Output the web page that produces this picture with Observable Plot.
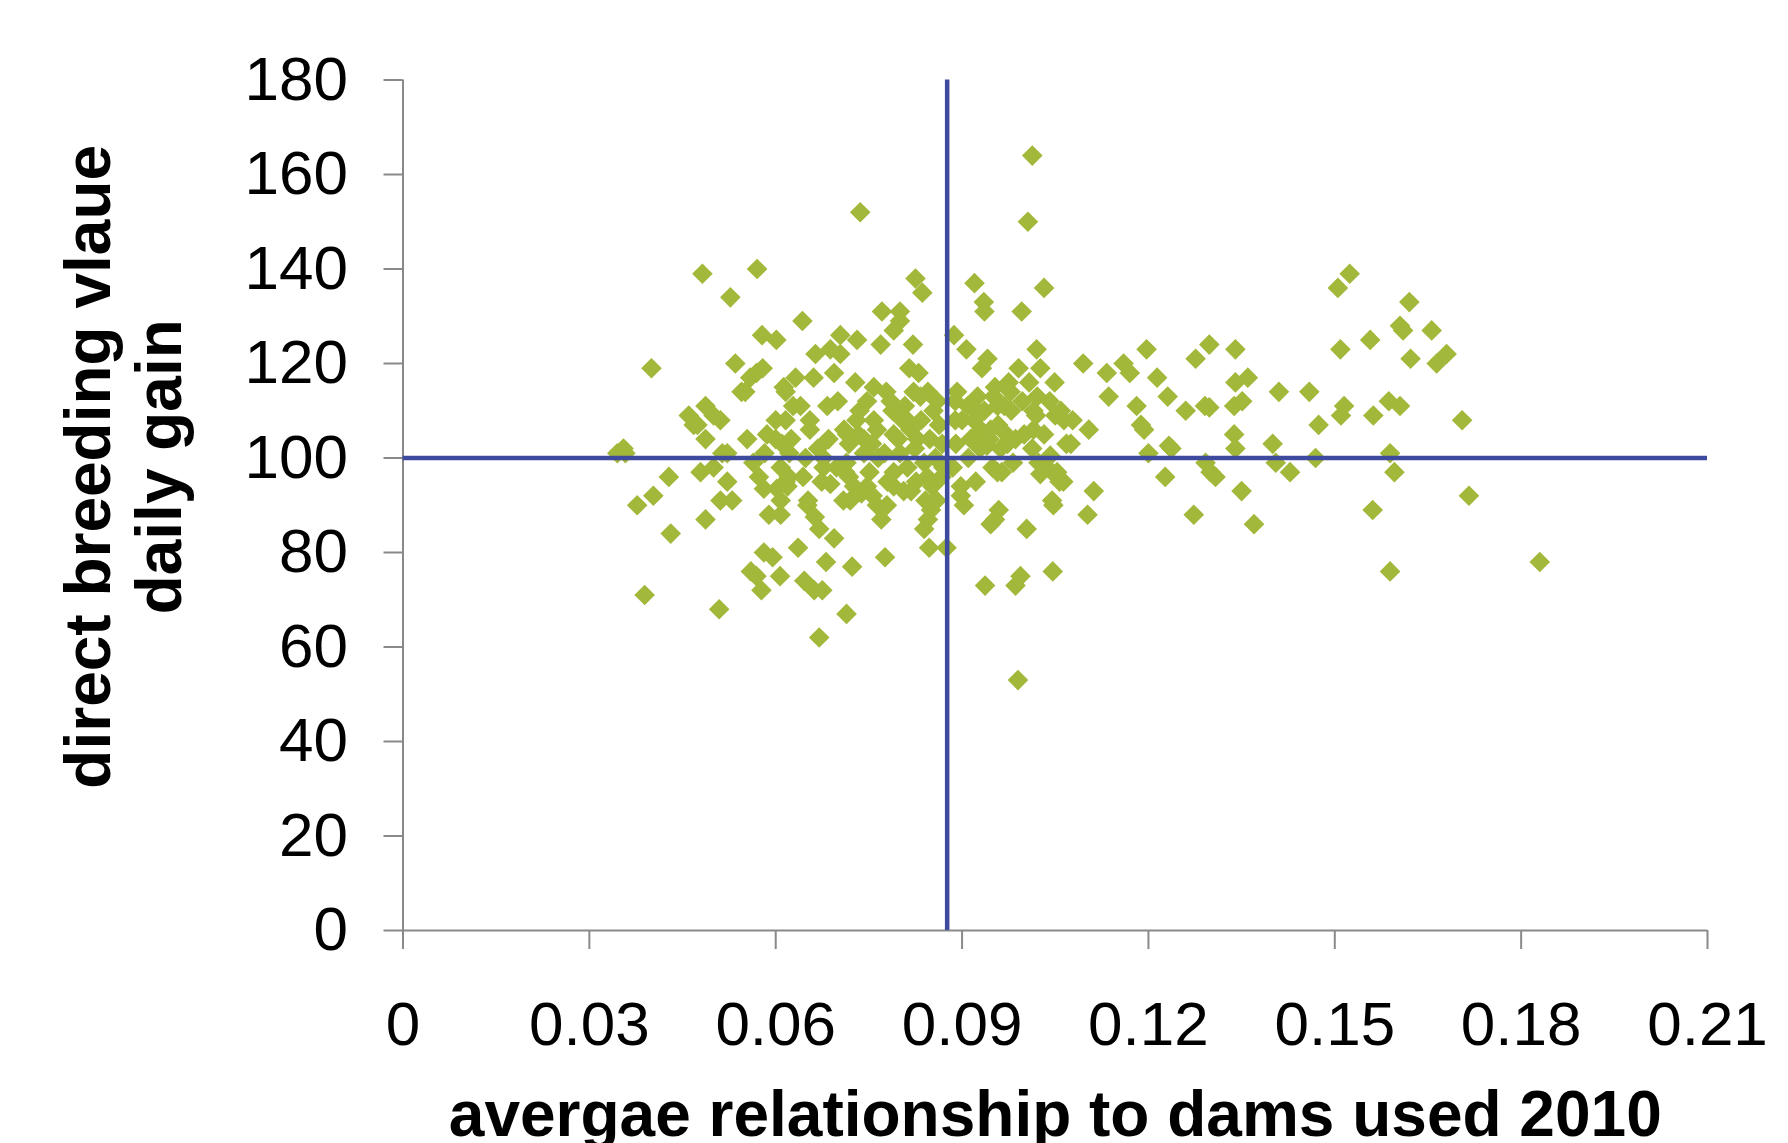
<!DOCTYPE html>
<html>
<head>
<meta charset="utf-8">
<script src="https://cdn.jsdelivr.net/npm/d3@7"></script>
<script src="https://cdn.jsdelivr.net/npm/@observablehq/plot@0.6"></script>
<style>
  html, body { margin: 0; padding: 0; background: #ffffff; }
  #chart svg { display: block; }
</style>
</head>
<body>
<div id="chart"></div>
<script>
// ---- data ----
const xTitle = "avergae relationship to dams used 2010";
const yTitle = "direct breeding vlaue\ndaily gain";

const xTicks = [0, 0.03, 0.06, 0.09, 0.12, 0.15, 0.18, 0.21];
const xTickLabels = ["0", "0.03", "0.06", "0.09", "0.12", "0.15", "0.18", "0.21"];
const yTicks = [0, 20, 40, 60, 80, 100, 120, 140, 160, 180];
const yTickLabels = ["0", "20", "40", "60", "80", "100", "120", "140", "160", "180"];

const meanRelationship = 0.0876;   // vertical reference line
const referenceGain = 100;         // horizontal reference line

// [average relationship, direct breeding value daily gain]
const points = [
  [0.0345,101],[0.0358,101],[0.0355,102],[0.0377,90],[0.0389,71],[0.0400,119],[0.0403,92],[0.0428,96],
  [0.0431,84],[0.0460,109],[0.0468,107],[0.0474,107],[0.0482,139],[0.0487,111],[0.0479,97],[0.0487,104],
  [0.0487,87],[0.0500,98],[0.0500,109],[0.0509,68],[0.0511,108],[0.0514,101],[0.0511,91],[0.0522,95],
  [0.0522,101],[0.0527,134],[0.0530,91],[0.0535,120],[0.0545,114],[0.0551,114],[0.0559,117],[0.0554,104],
  [0.0564,99],[0.0560,76],[0.0570,140],[0.0569,118],[0.0579,119],[0.0573,96],[0.0581,80],[0.0595,79],
  [0.0569,75],[0.0577,72],[0.0578,126],[0.0581,93.5],[0.0582,101],[0.0586,105],[0.0589,88],[0.0601,125],
  [0.0600,108],[0.0600,104],[0.0602,93.5],[0.0607,75],
  [0.0608,88],[0.0608,98],[0.0608,91],[0.0610,103],[0.0613,115],[0.0616,95],[0.0616,114],[0.0616,108],
  [0.0619,94],[0.0621,96],[0.0622,101],[0.0628,111],[0.0632,117],[0.0636,81],[0.0640,111],[0.0643,129],
  [0.0644,96],[0.0646,74],[0.0648,100],[0.0651,90],[0.0652,91],[0.0655,106],[0.0655,108],[0.0661,117],
  [0.0662,72],[0.0663,87.5],[0.0664,122],[0.0670,62],[0.0670,85],[0.0675,72],[0.0674,95],[0.0677,100],
  [0.0677,98],[0.0681,78],[0.0683,111],[0.0685,104],[0.0688,123],[0.0688,94.5],[0.0694,118],[0.0694,83],
  [0.0698,98],[0.0704,126],[0.0704,122],[0.0709,91],[0.0710,106],[0.0712,97],[0.0714,67],[0.0714,99],
  [0.0715,105],[0.0718,96],[0.0718,103],[0.0720,91],[0.0723,77],[0.0726,94],[0.0728,116],[0.0731,125],
  [0.0730,108],[0.0733,105],[0.0736,152],[0.0738,92.5],[0.0742,101],[0.0742,104],[0.0747,112],[0.0747,94],
  [0.0751,97],[0.0755,103],[0.0756,92],[0.0758,108],[0.0758,115],[0.0763,106],[0.0763,90],[0.0770,87],
  [0.0769,124],[0.0771,131],[0.0776,79],[0.0775,101],[0.0778,114],[0.0779,90],[0.0780,95],[0.0790,127],
  [0.0788,110],[0.0790,105],[0.0790,94],[0.0790,97],[0.0800,131],[0.0800,129],[0.0800,101],[0.0806,93],
  [0.0808,111],[0.0804,108],[0.0812,98],[0.0815,119],[0.0817,106],[0.0821,124],[0.0822,114],[0.0825,138],
  [0.0824,102],[0.0826,95],[0.0828,104],[0.0830,118],[0.0836,135],[0.0834,108],[0.0839,85],[0.0845,87],
  [0.0839,99],[0.0841,91],[0.0850,89],[0.0845,114],[0.0847,81],[0.0848,104],[0.0852,94],[0.0854,110],
  [0.0857,100],[0.0859,91],[0.0863,107],[0.0867,96],[0.0868,103],[0.0844,96],[0.0818,93],[0.0855,91],
  [0.0625,104],[0.0668,102],[0.0700,112],[0.0735,110],[0.0765,100],[0.0785,112],[0.0797,104],[0.0812,108],
  [0.0833,113],[0.0860,112],[0.0870,98],
  [0.0875,81],[0.0885,98],[0.0887,126],[0.0890,103],[0.0889,112],[0.0889,108],[0.0892,114],[0.0898,94],
  [0.0898,92],[0.0903,90],[0.0900,108],[0.0907,123],[0.0909,111],[0.0910,100],[0.0914,104],[0.0920,137],
  [0.0916,111],[0.0919,108],[0.0922,95],[0.0925,113],[0.0929,102],[0.0935,133],[0.0936,131],[0.0937,73],
  [0.0936,110],[0.0941,121],[0.0932,119],[0.0930,106],[0.0940,102.6],[0.0944,104],[0.0946,106],[0.0946,86],
  [0.0953,87],[0.0949,98],[0.0951,113],[0.0953,115],[0.0957,111],[0.0957,97],[0.0958,107],[0.0959,89],
  [0.0962,102],[0.0964,97],[0.0968,111],[0.0971,105],[0.0973,103],[0.0975,116],[0.0978,114],[0.0979,110],
  [0.0982,99],[0.0986,73],[0.0990,53],[0.0994,75],[0.0991,119],[0.0996,131],[0.0997,112],[0.0986,104],
  [0.1000,105],[0.1004,85],[0.1006,150],[0.1008,116],[0.1013,164],[0.1013,102],[0.1015,110],[0.1015,106],
  [0.1020,123],[0.1021,113],[0.1019,109],[0.1023,99],[0.1026,119],[0.1026,96.6],[0.1032,136],[0.1032,105],
  [0.1037,98],[0.1041,112],[0.1042,100.5],[0.1045,91],[0.1046,76],[0.1047,90],[0.1049,116],[0.1050,109],
  [0.1053,97],[0.1053,96],[0.1057,95],[0.1059,110],[0.1064,108],[0.1063,95],[0.1068,103],[0.1075,103],
  [0.1078,108],[0.1095,120],[0.1102,88],[0.1104,106],[0.1112,93],[0.1133,118],[0.1136,113],[0.1160,120],
  [0.1170,118],[0.1181,111],[0.1188,107],[0.1193,106],[0.1200,101],[0.1197,123],[0.1214,117],[0.1227,96],
  [0.1231,113],[0.1233,102.6],[0.1237,102],[0.1260,110],[0.1273,88],[0.1276,121],[0.1292,99],[0.1291,111],
  [0.1298,110.7],[0.1298,124],[0.1300,97],[0.1308,96],[0.1338,105],[0.1340,102],[0.1340,123],[0.1340,116],
  [0.1360,117],[0.1338,111],[0.1351,112],[0.1350,93],[0.1370,86],[0.1400,103],[0.1405,99],[0.1410,114],
  [0.1428,97],[0.1459,114],[0.1469,100],[0.1474,107],[0.1505,136],[0.1509,123],[0.1515,111],[0.1510,109],
  [0.1524,139],[0.1557,125],[0.1561,89],[0.1562,109],[0.1587,112],[0.1589,101],[0.1596,97],[0.1589,76],
  [0.1605,111],[0.1605,128],[0.1610,127],[0.1620,133],[0.1622,121],[0.1656,127],[0.1664,120],[0.1680,122],
  [0.1705,108],[0.1716,92],[0.1830,78]
];

// ---- chart ----
const data = points.map(([x, y]) => ({x, y}));
const axisGray = "#898989";
const font = "'Liberation Sans', Arial, Helvetica, sans-serif";

const chart = Plot.plot({
  width: 1788,
  height: 1143,
  marginLeft: 402.5,
  marginRight: 81,
  marginTop: 79.5,
  marginBottom: 213,
  style: {fontFamily: font, fontSize: "62px", color: "black", background: "white", overflow: "visible"},
  x: {domain: [0, 0.21]},
  y: {domain: [0, 180]},
  marks: [
    Plot.ruleY([0], {stroke: axisGray, strokeWidth: 2}),
    Plot.ruleX([0], {stroke: axisGray, strokeWidth: 2}),
    Plot.axisX(xTicks, {
      tickSize: 19, tickPadding: 51, label: null,
      tickFormat: d => xTickLabels[xTicks.indexOf(d)],
      stroke: axisGray, strokeWidth: 2, fill: "black", fontSize: 62
    }),
    Plot.axisY(yTicks, {
      tickSize: 19, tickPadding: 36, label: null,
      tickFormat: d => yTickLabels[yTicks.indexOf(d)],
      stroke: axisGray, strokeWidth: 2, fill: "black", fontSize: 62
    }),
    Plot.dot(data, {x: "x", y: "y", symbol: "diamond2", r: 9.3, fill: "#a2b83a"}),
    Plot.ruleY([referenceGain], {stroke: "#3d4a9e", strokeWidth: 4.5}),
    Plot.ruleX([meanRelationship], {stroke: "#3d4a9e", strokeWidth: 4.5}),
    Plot.text([xTitle], {
      text: d => d, frameAnchor: "bottom", dy: 205, lineAnchor: "bottom",
      fontSize: 64, fontWeight: "bold", fill: "black"
    }),
    Plot.text([yTitle], {
      text: d => d, frameAnchor: "left", rotate: -90, dx: -222.5, dy: -38.5,
      lineAnchor: "bottom", lineHeight: 1.1, textAnchor: "middle",
      fontSize: 64, fontWeight: "bold", fill: "black"
    })
  ]
});

document.getElementById("chart").append(chart);
</script>
</body>
</html>
